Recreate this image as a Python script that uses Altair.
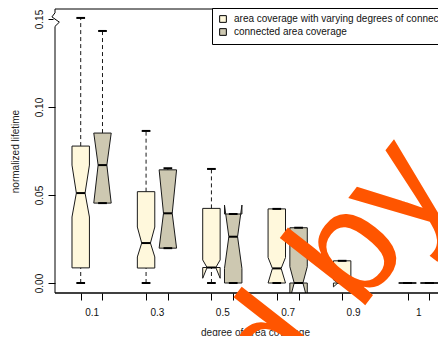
import json
import altair as alt
import pandas as pd

# ---- data ----
categories = ["0.1", "0.3", "0.5", "0.7", "0.9", "1"]
series = ["area coverage with varying degrees of connectivity", "connected area coverage"]
colors = ["#FFF8DC", "#CDC8B1"]

# series 1: area coverage with varying degrees of connectivity
s1_lower = [0.0, 0.0, 0.0, 0.0, 0.0, 0.0]
s1_q1 = [0.0086, 0.0085, 0.0088, 0.0, 0.0, 0.0]
s1_median = [0.0511, 0.0227, 0.0088, 0.0083, 0.0, 0.0]
s1_q3 = [0.0778, 0.0519, 0.0424, 0.0421, 0.0126, 0.0]
s1_upper = [0.1506, 0.0864, 0.0648, 0.0421, 0.0126, 0.0]
s1_notch_lo = [0.0375, 0.0148, 0.0027, 0.0, -0.0022, 0.0]
s1_notch_hi = [0.0670, 0.0318, 0.0131, 0.0145, 0.0018, 0.0]

# series 2: connected area coverage
s2_lower = [0.0454, 0.0198, 0.0, 0.0, 0.0, 0.0]
s2_q1 = [0.0454, 0.0198, 0.0, 0.0, 0.0, 0.0]
s2_median = [0.0670, 0.0396, 0.0263, 0.0, 0.0, 0.0]
s2_q3 = [0.0852, 0.0643, 0.0392, 0.0314, 0.0, 0.0]
s2_upper = [0.1432, 0.0652, 0.0392, 0.0314, 0.0, 0.0]
s2_notch_lo = [0.0454, 0.0198, 0.0083, -0.0093, 0.0, 0.0]
s2_notch_hi = [0.0852, 0.0643, 0.0443, 0.0093, 0.0, 0.0]

y_ticks = [0.0, 0.05, 0.10, 0.15]
axis_break_at = 0.15
watermark = "d by"

# ---- build tables ----
stats = {
    series[0]: (s1_lower, s1_q1, s1_median, s1_q3, s1_upper, s1_notch_lo, s1_notch_hi),
    series[1]: (s2_lower, s2_q1, s2_median, s2_q3, s2_upper, s2_notch_lo, s2_notch_hi),
}
HW = 0.4      # half box width (x units)
NF = 0.5      # notch fraction
SW = 0.5      # staple fraction

rows, poly = [], []
for si, s in enumerate(series):
    lo, q1, md, q3, up, clo, chi = stats[s]
    for ci, c in enumerate(categories):
        pos = 3 * ci + 1 + si
        box = f"{s}|{c}"
        rows.append(dict(series=s, cat=c, pos=pos, lower=lo[ci], q1=q1[ci], median=md[ci],
                         q3=q3[ci], upper=up[ci],
                         cap_l=pos - HW * SW, cap_r=pos + HW * SW,
                         med_l=pos - HW * NF, med_r=pos + HW * NF))
        offs = [-1, 1, 1, NF, 1, 1, -1, -1, -NF, -1, -1]
        ys = [q1[ci], q1[ci], clo[ci], md[ci], chi[ci], q3[ci], q3[ci], chi[ci], md[ci], clo[ci], q1[ci]]
        for k, (o, yv) in enumerate(zip(offs, ys)):
            poly.append(dict(box=box, series=s, k=k, x=pos + HW * o, y=yv))
stats_df = pd.DataFrame(rows)
poly_df = pd.DataFrame(poly)

positions = [3 * ci + 1 + si for ci in range(len(categories)) for si in range(2)]
centers = [3 * ci + 1.5 for ci in range(len(categories))]
n_pos = len(categories) * 3 - 1
ext = n_pos * 0.04
full_x = [0.5 - ext, n_pos + 0.5 + ext]          # full R plot region (right part falls off the picture)
PLOT_W_FULL = 400
PLOT_W = 383                                       # visible part
x_dom = [full_x[0], full_x[0] + (full_x[1] - full_x[0]) * PLOT_W / PLOT_W_FULL]
y_dom = [-0.00568, 0.15568]

frame_df = pd.DataFrame({"x": [full_x[0]], "x2": [full_x[1]], "ylo": [y_dom[0]], "yhi": [y_dom[1]]})

# axis-break zigzag on the left axis, around the 0.15 tick
zz_dx = [0.0, -0.14, 0.2, 0.0]
zz_dy = [0.0035, 0.0012, -0.0018, -0.0042]
zig_df = pd.DataFrame({"k": range(len(zz_dx)),
                       "x": [x_dom[0] + d for d in zz_dx],
                       "y": [axis_break_at + d for d in zz_dy]})
gap_df = pd.DataFrame({"x": [x_dom[0]], "y": [axis_break_at + zz_dy[0]],
                       "y2": [axis_break_at + zz_dy[-1]]})

FONT = "Liberation Sans"
FS = 10
xscale = alt.Scale(domain=x_dom, nice=False, zero=False)
yscale = alt.Scale(domain=y_dom, nice=False, zero=False)
fillscale = alt.Scale(domain=series, range=colors)

y_axis = alt.Axis(values=y_ticks, format=".2f", labelAngle=270, labelAlign="center",
                  labelBaseline="bottom", tickSize=7, labelPadding=4, domain=False, grid=False,
                  title="normalized lifetime", titleX=-40, titleY=142, titleAngle=270,
                  titleAlign="center", titleBaseline="middle", titleFontWeight="normal",
                  titleFontSize=FS, labelFontSize=FS, tickColor="black", labelColor="#111",
                  titleColor="#222", labelFont=FONT, titleFont=FONT, orient="left")
x_tick_axis = alt.Axis(values=positions, labels=False, tickSize=7, domain=False, grid=False,
                       title=None, tickColor="black", orient="bottom")
label_expr = json.dumps(categories) + "[floor(datum.value / 3)]"
x_label_axis = alt.Axis(values=centers, labelExpr=label_expr, ticks=False, tickSize=0,
                        labelPadding=14, domain=False, grid=False, labelFlush=False,
                        labelOverlap=False, labelFontSize=FS, labelFont=FONT, labelColor="#111",
                        title="degree of area coverage", titleX=200, titleY=39,
                        titleBaseline="middle", titleFontWeight="normal", titleFontSize=FS,
                        titleFont=FONT, titleColor="#222", orient="bottom")

legend = alt.Legend(
    title=None, orient="none", legendX=157, legendY=-1, symbolType="square",
    symbolSize=45, symbolStrokeColor="black", symbolStrokeWidth=1, labelFontSize=FS,
    labelFont=FONT, labelColor="#111", strokeColor="black", fillColor="white",
    padding=6, rowPadding=1, labelOffset=6, labelLimit=400)

boxes = alt.Chart(poly_df).mark_line(stroke="#1a1a1a", strokeWidth=1, clip=True,
                                     strokeJoin="miter").encode(
    x=alt.X("x:Q", scale=xscale, axis=x_tick_axis),
    y=alt.Y("y:Q", scale=yscale, axis=y_axis),
    order=alt.Order("k:Q"),
    detail="box:N",
    fill=alt.Fill("series:N", scale=fillscale, legend=legend),
)

legend_layer = alt.Chart(stats_df).mark_rect().encode(
    x=alt.X("cap_l:Q", scale=xscale, axis=None),
    x2="cap_r:Q",
    y=alt.Y("median:Q", scale=yscale, axis=None),
    y2="median:Q",
    fill=alt.Fill("series:N", scale=fillscale, legend=legend),
)

upper_whisk = alt.Chart(stats_df).transform_filter("datum.upper > datum.q3").mark_rule(
    color="#1a1a1a", strokeWidth=1, strokeDash=[4, 3]).encode(
    x=alt.X("pos:Q", scale=xscale, axis=None),
    y=alt.Y("q3:Q", scale=yscale, axis=None), y2="upper:Q")
lower_whisk = alt.Chart(stats_df).transform_filter("datum.q1 > datum.lower").mark_rule(
    color="#1a1a1a", strokeWidth=1, strokeDash=[4, 3]).encode(
    x=alt.X("pos:Q", scale=xscale, axis=None),
    y=alt.Y("lower:Q", scale=yscale, axis=None), y2="q1:Q")

cap_up = alt.Chart(stats_df).mark_rule(color="black", strokeWidth=2).encode(
    x=alt.X("cap_l:Q", scale=xscale, axis=None), x2="cap_r:Q",
    y=alt.Y("upper:Q", scale=yscale, axis=None))
cap_lo = alt.Chart(stats_df).mark_rule(color="black", strokeWidth=2).encode(
    x=alt.X("cap_l:Q", scale=xscale, axis=None), x2="cap_r:Q",
    y=alt.Y("lower:Q", scale=yscale, axis=None))

medians = alt.Chart(stats_df).mark_rule(color="black", strokeWidth=2).encode(
    x=alt.X("med_l:Q", scale=xscale, axis=x_label_axis), x2="med_r:Q",
    y=alt.Y("median:Q", scale=yscale, axis=None))

frame_base = alt.Chart(frame_df)
frame_left = frame_base.mark_rule(color="black", strokeWidth=1).encode(
    x=alt.X("x:Q", scale=xscale, axis=None),
    y=alt.Y("ylo:Q", scale=yscale, axis=None), y2="yhi:Q")
frame_top = frame_base.mark_rule(color="black", strokeWidth=1).encode(
    x=alt.X("x:Q", scale=xscale, axis=None), x2="x2:Q",
    y=alt.Y("yhi:Q", scale=yscale, axis=None))
frame_bottom = frame_base.mark_rule(color="black", strokeWidth=1.3).encode(
    x=alt.X("x:Q", scale=xscale, axis=None), x2="x2:Q",
    y=alt.Y("ylo:Q", scale=yscale, axis=None))

gap = alt.Chart(gap_df).mark_rule(color="white", strokeWidth=3).encode(
    x=alt.X("x:Q", scale=xscale, axis=None),
    y=alt.Y("y:Q", scale=yscale, axis=None), y2="y2:Q")
zig = alt.Chart(zig_df).mark_line(color="black", strokeWidth=1).encode(
    x=alt.X("x:Q", scale=xscale, axis=None),
    y=alt.Y("y:Q", scale=yscale, axis=None), order="k:Q")

wm = alt.Chart(pd.DataFrame({"t": [watermark]})).mark_text(
    fontSize=150, angle=308, color="#FF5500", font=FONT, align="center",
    baseline="middle").encode(text="t:N", x=alt.value(279), y=alt.value(263))

chart = alt.layer(boxes, legend_layer, upper_whisk, lower_whisk, medians, cap_up, cap_lo,
                  frame_left, frame_top, frame_bottom, gap, zig, wm).resolve_axis(
    x="independent", y="independent").properties(
    width=PLOT_W, height=284,
    autosize=alt.AutoSizeParams(type="none"),
    padding={"left": 47, "top": 1, "right": 0, "bottom": 43},
    background="white",
).configure_view(stroke=None)

chart.save("out.html", embed_options={"renderer": "svg", "actions": False})
